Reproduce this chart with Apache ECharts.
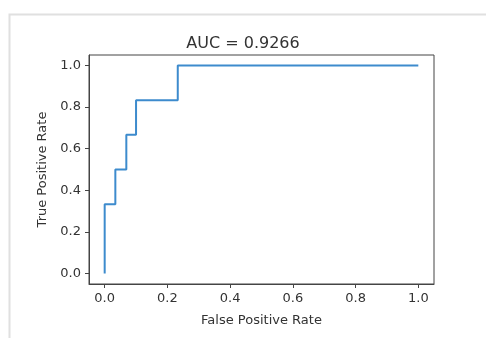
<!DOCTYPE html>
<html>
<head>
<meta charset="utf-8">
<script src="https://cdn.jsdelivr.net/npm/echarts@6/dist/echarts.min.js"></script>
<style>
  html, body { margin: 0; padding: 0; background: #fff; }
  #chart { width: 486px; height: 338px; }
</style>
</head>
<body>
<div id="chart"></div>
<script>
// ROC curve points
const fpr = [0, 0, 0.034, 0.034, 0.069, 0.069, 0.1, 0.1, 0.233, 0.233, 1.0];
const tpr = [0, 0.333, 0.333, 0.5, 0.5, 0.667, 0.667, 0.833, 0.833, 1.0, 1.0];
const xTicks = [0, 0.2, 0.4, 0.6, 0.8, 1.0];
const yTicks = [0, 0.2, 0.4, 0.6, 0.8, 1.0];
const titleText = 'AUC = 0.9266';

const chart = echarts.init(document.getElementById('chart'), null, { renderer: 'canvas' });
const font = 'DejaVu Sans';
const textColor = '#333';

chart.setOption({
  animation: false,
  graphic: [
    {
      // light frame around the figure
      type: 'rect',
      shape: { x: 9.5, y: 14.5, width: 520, height: 400 },
      style: { fill: 'none', stroke: '#e0e0e0', lineWidth: 2 },
      silent: true
    }
  ],
  title: {
    text: titleText,
    left: 'center',
    top: 31,
    textStyle: { fontFamily: font, fontSize: 16, fontWeight: 'normal', color: textColor }
  },
  grid: {
    left: 89, top: 55, right: 52, bottom: 54,
    show: true, borderColor: '#444', borderWidth: 1, backgroundColor: 'transparent'
  },
  xAxis: {
    type: 'value',
    min: -0.05, max: 1.05,
    name: 'False Positive Rate',
    nameLocation: 'middle',
    nameGap: 30,
    nameTextStyle: { fontFamily: font, fontSize: 13, color: textColor },
    axisLine: { show: true, onZero: false, lineStyle: { color: '#444' } },
    axisTick: { show: true, length: 4, customValues: xTicks, lineStyle: { color: '#444' } },
    axisLabel: {
      customValues: xTicks, margin: 8,
      fontFamily: font, fontSize: 13, color: textColor,
      formatter: v => v.toFixed(1)
    },
    splitLine: { show: false }
  },
  yAxis: {
    type: 'value',
    min: -0.05, max: 1.05,
    name: 'True Positive Rate',
    nameLocation: 'middle',
    nameGap: 40,
    nameTextStyle: { fontFamily: font, fontSize: 13, color: textColor },
    axisLine: { show: true, onZero: false, lineStyle: { color: '#444' } },
    axisTick: { show: true, length: 4, customValues: yTicks, lineStyle: { color: '#444' } },
    axisLabel: {
      customValues: yTicks, margin: 8,
      fontFamily: font, fontSize: 13, color: textColor,
      formatter: v => v.toFixed(1)
    },
    splitLine: { show: false }
  },
  series: [
    {
      type: 'line',
      data: fpr.map((x, i) => [x, tpr[i]]),
      showSymbol: false,
      lineStyle: { color: '#3d8bcd', width: 2 },
      silent: true
    }
  ]
});
</script>
</body>
</html>
